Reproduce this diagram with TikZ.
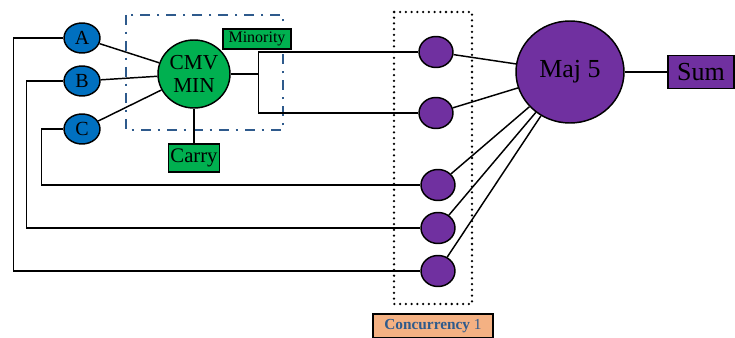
\documentclass[tikz,border=0pt]{standalone}
\usepackage{fontspec}
\setmainfont{Liberation Serif}
\usetikzlibrary{positioning,shapes.geometric}

\definecolor{inblue}{HTML}{0070C0}
\definecolor{mingreen}{HTML}{00B050}
\definecolor{majpurple}{HTML}{7030A0}
\definecolor{linkblue}{HTML}{2E5A8C}
\definecolor{concorange}{HTML}{F4B183}

\begin{document}
\begin{tikzpicture}[x=0.75pt,y=-0.75pt,line width=1.1pt,
  every node/.style={draw,line width=1.1pt,inner sep=0,align=center},
  innode/.style={ellipse,fill=inblue,minimum width=27pt,minimum height=22.5pt,font=\fontsize{15}{15}\selectfont},
  cmvnode/.style={ellipse,fill=mingreen,minimum width=54pt,minimum height=51pt,font=\fontsize{16}{16}\selectfont},
  greenbox/.style={rectangle,fill=mingreen},
  dotnode/.style={ellipse,fill=majpurple,minimum width=25.5pt,minimum height=23.25pt},
  majnode/.style={ellipse,fill=majpurple,minimum width=81pt,minimum height=76.5pt,font=\fontsize{19.5}{20}\selectfont}]

\useasboundingbox (0,0) rectangle (735,338);

% grouping frames
\draw[linkblue,line width=1.4pt,dash pattern=on 7.5pt off 5pt on 2pt off 5pt] (126,15) rectangle (283,130);
\draw[line width=1.9pt,line cap=round,dash pattern=on 0pt off 4.3pt] (394,12) rectangle (472,304);

% inputs and minority gate
\node [innode] (a) at (82,38) {A};
\node [innode] (b) at (82,81) {B};
\node [innode] (c) at (82,129) {C};
\node [cmvnode] (cmv) at (194,74) {CMV\\[1pt]MIN};
\node [greenbox,minimum width=51pt,minimum height=15pt,font=\fontsize{12}{12}\selectfont] (minority) at (257,39) {Minority};
\node [greenbox,minimum width=38pt,minimum height=21pt,font=\fontsize{15.5}{16}\selectfont] (carry) at (194,158) {Carry};

% concurrency column
\node [dotnode] (c1) at (436,52) {};
\node [dotnode] (c2) at (436,113) {};
\node [dotnode] (c3) at (438,185) {};
\node [dotnode] (c4) at (438,228) {};
\node [dotnode] (c5) at (438,271) {};
\node [rectangle,fill=concorange,minimum width=90pt,minimum height=18pt,text=linkblue,font=\fontsize{11.5}{12}\selectfont] (conc) at (433,326) {\textbf{Concurrency} 1};

% majority and output
\node [majnode] (maj) at (570,72) {Maj 5};
\node [rectangle,fill=majpurple,minimum width=49.5pt,minimum height=24.75pt,font=\fontsize{19.5}{20}\selectfont] (sum) at (701,72) {Sum};

% wiring
\draw (a) -- (cmv);
\draw (b) -- (cmv);
\draw (c) -- (cmv);
\draw (cmv) -- (carry);
\draw (cmv.east) -- ++(28,0) coordinate (split);
\draw (split) |- (c1);
\draw (split) |- (c2);
\draw (a.west) -- ++(-50,0) |- (c5);
\draw (b.west) -- ++(-37,0) |- (c4);
\draw (c.west) -- ++(-22,0) |- (c3);
\foreach \n in {c1,c2,c3,c4,c5}
  \draw (\n) -- (maj);
\draw (maj) -- (sum);

\end{tikzpicture}
\end{document}
